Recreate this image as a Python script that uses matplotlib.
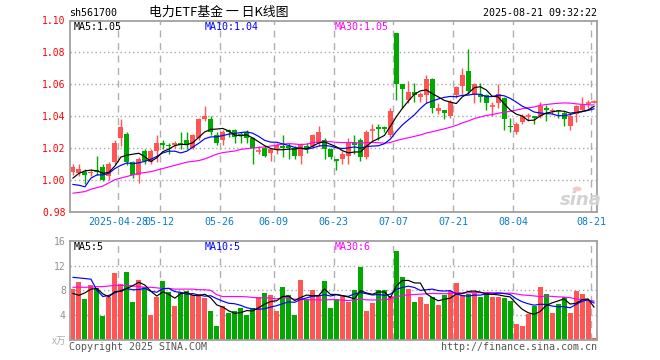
import matplotlib
matplotlib.use('Agg')
import matplotlib.pyplot as plt
import numpy as np
import pandas as pd

# ---------------- data ----------------
symbol = "sh561700"
title = "电力ETF基金 一 日K线图"
stamp = "2025-08-21 09:32:22"

dates = [
    "2025-04-16", "2025-04-17", "2025-04-18", "2025-04-21", "2025-04-22", "2025-04-23", "2025-04-24", "2025-04-25",
    "2025-04-28", "2025-04-29", "2025-04-30",
    "2025-05-06", "2025-05-07", "2025-05-08", "2025-05-09", "2025-05-12", "2025-05-13", "2025-05-14", "2025-05-15",
    "2025-05-16", "2025-05-19", "2025-05-20", "2025-05-21", "2025-05-22", "2025-05-23", "2025-05-26", "2025-05-27",
    "2025-05-28", "2025-05-29", "2025-05-30",
    "2025-06-03", "2025-06-04", "2025-06-05", "2025-06-06", "2025-06-09", "2025-06-10", "2025-06-11", "2025-06-12",
    "2025-06-13", "2025-06-16", "2025-06-17", "2025-06-18", "2025-06-19", "2025-06-20", "2025-06-23", "2025-06-24",
    "2025-06-25", "2025-06-26", "2025-06-27", "2025-06-30",
    "2025-07-01", "2025-07-02", "2025-07-03", "2025-07-04", "2025-07-07", "2025-07-08", "2025-07-09", "2025-07-10",
    "2025-07-11", "2025-07-14", "2025-07-15", "2025-07-16", "2025-07-17", "2025-07-18", "2025-07-21", "2025-07-22",
    "2025-07-23", "2025-07-24", "2025-07-25", "2025-07-28", "2025-07-29", "2025-07-30", "2025-07-31",
    "2025-08-01", "2025-08-04", "2025-08-05", "2025-08-06", "2025-08-07", "2025-08-08", "2025-08-11", "2025-08-12",
    "2025-08-13", "2025-08-14", "2025-08-15", "2025-08-18", "2025-08-19", "2025-08-20", "2025-08-21",
]

open_ = [1.005, 1.004, 1.005, 1.004, 1.006, 1.008, 1.002, 1.011, 1.026, 1.029,
         1.011, 1.003, 1.018, 1.011, 1.018, 1.023, 1.022, 1.022, 1.023, 1.025,
         1.020, 1.026, 1.038, 1.038, 1.028, 1.025, 1.031, 1.031, 1.029, 1.030,
         1.026, 1.018, 1.020, 1.017, 1.019, 1.021, 1.021, 1.020, 1.015, 1.021,
         1.021, 1.023, 1.025, 1.019, 1.013, 1.013, 1.015, 1.023, 1.025, 1.014,
         1.031, 1.033, 1.033, 1.028, 1.092, 1.060, 1.050, 1.055, 1.052, 1.053,
         1.063, 1.043, 1.044, 1.040, 1.053, 1.059, 1.068, 1.053, 1.054, 1.053,
         1.046, 1.048, 1.051, 1.034, 1.030, 1.036, 1.040, 1.040, 1.040, 1.045,
         1.043, 1.044, 1.042, 1.034, 1.041, 1.044, 1.048, 1.049]
high = [1.010, 1.010, 1.007, 1.007, 1.015, 1.010, 1.011, 1.025, 1.038, 1.030,
        1.012, 1.014, 1.019, 1.019, 1.028, 1.025, 1.023, 1.024, 1.030, 1.030,
        1.029, 1.039, 1.046, 1.040, 1.030, 1.031, 1.032, 1.032, 1.030, 1.031,
        1.027, 1.021, 1.021, 1.020, 1.023, 1.028, 1.023, 1.021, 1.023, 1.023,
        1.029, 1.034, 1.026, 1.020, 1.013, 1.018, 1.026, 1.028, 1.026, 1.031,
        1.035, 1.035, 1.034, 1.045, 1.092, 1.060, 1.062, 1.061, 1.055, 1.066,
        1.064, 1.048, 1.044, 1.050, 1.059, 1.070, 1.082, 1.061, 1.061, 1.054,
        1.049, 1.060, 1.052, 1.039, 1.036, 1.041, 1.042, 1.040, 1.049, 1.047,
        1.045, 1.044, 1.043, 1.041, 1.047, 1.052, 1.050, 1.050]
low = [1.003, 1.002, 0.997, 1.002, 1.003, 0.999, 1.000, 1.010, 1.021, 1.009,
       1.001, 0.998, 1.010, 1.010, 1.011, 1.019, 1.016, 1.020, 1.019, 1.019,
       1.019, 1.025, 1.037, 1.028, 1.022, 1.022, 1.027, 1.023, 1.023, 1.023,
       1.010, 1.016, 1.014, 1.012, 1.016, 1.014, 1.013, 1.013, 1.010, 1.017,
       1.020, 1.021, 1.013, 1.013, 1.006, 1.010, 1.010, 1.016, 1.012, 1.013,
       1.024, 1.025, 1.030, 1.027, 1.050, 1.045, 1.048, 1.049, 1.049, 1.048,
       1.042, 1.041, 1.038, 1.039, 1.051, 1.054, 1.054, 1.048, 1.049, 1.044,
       1.040, 1.045, 1.031, 1.030, 1.029, 1.035, 1.037, 1.035, 1.039, 1.037,
       1.041, 1.039, 1.034, 1.031, 1.036, 1.043, 1.045, 1.048]
close = [1.008, 1.007, 1.003, 1.005, 1.005, 1.000, 1.010, 1.023, 1.033, 1.011,
         1.003, 1.013, 1.012, 1.018, 1.023, 1.022, 1.021, 1.023, 1.022, 1.022,
         1.028, 1.038, 1.040, 1.030, 1.023, 1.030, 1.030, 1.027, 1.028, 1.026,
         1.020, 1.018, 1.015, 1.019, 1.022, 1.020, 1.020, 1.015, 1.022, 1.020,
         1.028, 1.030, 1.019, 1.014, 1.012, 1.016, 1.023, 1.022, 1.014, 1.030,
         1.031, 1.032, 1.032, 1.043, 1.060, 1.057, 1.055, 1.053, 1.054, 1.063,
         1.045, 1.045, 1.042, 1.049, 1.058, 1.066, 1.056, 1.060, 1.052, 1.048,
         1.046, 1.054, 1.038, 1.033, 1.035, 1.040, 1.040, 1.039, 1.046, 1.044,
         1.044, 1.043, 1.038, 1.040, 1.046, 1.047, 1.048, 1.049]
volume = [8.2, 9.3, 6.6, 8.9, 8.4, 3.9, 7.0, 10.8, 9.0, 10.9,
          6.1, 9.7, 8.6, 4.0, 7.0, 9.5, 7.7, 5.5, 7.7, 7.9,
          7.2, 7.4, 6.7, 4.7, 2.3, 5.5, 4.3, 4.7, 5.2, 4.0,
          5.2, 6.9, 7.6, 7.3, 4.6, 8.6, 7.3, 4.0, 9.7, 6.6,
          8.1, 7.3, 9.5, 5.2, 6.6, 7.1, 6.2, 8.1, 11.8, 4.7,
          6.0, 8.1, 8.1, 7.1, 14.4, 10.2, 8.2, 6.1, 7.0, 5.8,
          7.0, 5.7, 7.3, 7.9, 9.2, 7.3, 7.4, 7.7, 7.0, 7.7,
          7.0, 7.0, 6.7, 6.3, 2.5, 2.3, 4.2, 5.4, 8.5, 7.4,
          4.4, 5.8, 7.0, 4.4, 7.9, 7.4, 6.4, 0.4]

# moving-average values at the left edge (their windows reach before the chart)
price_ma5_head = [1.001, 1.004, 1.0055, 1.006]
price_ma10_head = [0.997, 0.9965, 0.9955, 1.001, 1.003, 1.003, 1.004, 1.007, 1.009]
price_ma30_head = [0.9915, 0.992, 0.9925, 0.994, 0.995, 0.996, 0.998, 1.000, 1.001, 1.002,
                   1.003, 1.004, 1.0045, 1.005, 1.006, 1.007, 1.008, 1.009, 1.010, 1.011,
                   1.0115, 1.012, 1.013, 1.0145, 1.016, 1.017, 1.0175, 1.018, 1.019]
vol_ma5_head = [7.5, 7.2, 7.6, 8.2]
vol_ma10_head = [10.1, 10.0, 9.9, 9.8, 8.0, 7.0, 7.2, 7.6, 8.0]
vol_ma30_head = [8.5, 8.5, 8.5, 8.5, 8.6, 8.6, 8.7, 8.8, 8.8, 8.8,
                 8.7, 8.6, 8.5, 8.5, 8.4, 8.3, 8.3, 8.2, 8.2, 8.2,
                 8.2, 8.1, 8.1, 8.0, 7.3, 7.0, 7.0, 7.0, 7.0]

tick_dates = ["2025-04-28", "2025-05-12", "2025-05-26", "2025-06-09", "2025-06-23",
              "2025-07-07", "2025-07-21", "2025-08-04", "2025-08-21"]
tick_labels = ["2025-04-28", "05-12", "05-26", "06-09", "06-23", "07-07", "07-21", "08-04", "08-21"]
price_ticks = [0.98, 1.00, 1.02, 1.04, 1.06, 1.08, 1.10]
vol_ticks = [4, 8, 12, 16]

# ---------------- helpers ----------------
W, H = 660, 360
RED = '#ff5555'
GREEN = '#00a800'
MONO = 'DejaVu Sans Mono'
CJK = ['Noto Sans CJK SC', 'DejaVu Sans']


def rect(l, t, r, b):
    return [l / W, 1 - b / H, (r - l) / W, (b - t) / H]


def ftext(x, y, s, **kw):
    kw.setdefault('va', 'center')
    kw.setdefault('family', MONO)
    return fig.text(x / W, 1 - y / H, s, **kw)


def moving(values, n, head):
    out = pd.Series(values).rolling(n).mean().to_numpy()
    out[:len(head)] = head
    return out


o = np.array(open_)
h = np.array(high)
l = np.array(low)
c = np.array(close)
v = np.array(volume)
x = np.arange(len(c))
up = c >= o
cols = np.where(up, RED, GREEN)

pma5 = moving(c, 5, price_ma5_head)
pma10 = moving(c, 10, price_ma10_head)
pma30 = moving(c, 30, price_ma30_head)
vma5 = moving(v, 5, vol_ma5_head)
vma10 = moving(v, 10, vol_ma10_head)
vma30 = moving(v, 30, vol_ma30_head)

tick_pos = np.array([dates.index(d) for d in tick_dates]) - 0.5

fig = plt.figure(figsize=(6.6, 3.6), dpi=100)
fig.patch.set_facecolor('white')
ax = fig.add_axes(rect(70, 20.5, 597, 211.5))
axv = fig.add_axes(rect(70, 240.7, 597, 340))

for a in (ax, axv):
    a.set_xlim(-0.5, len(c) - 0.5)
    for s in a.spines.values():
        s.set_color('#a0a0a0')
        s.set_linewidth(1.3)
    a.tick_params(length=0)
    for tp in tick_pos:
        a.axvline(tp, color='#b0b0b0', lw=1.0, ls=(0, (5, 4)), zorder=0)

# ---------------- price panel ----------------
ax.set_ylim(price_ticks[0], price_ticks[-1])
for yv in price_ticks[1:-1]:
    ax.axhline(yv, color='#a8a8a8', lw=1.0, ls=(0, (1, 2)), zorder=0)

ax.vlines(x, l, h, colors=cols, lw=1.0, zorder=2)
body = np.abs(c - o)
doji = body < 1e-9
ax.bar(x[~doji], body[~doji], bottom=np.minimum(o, c)[~doji], width=0.83,
       color=cols[~doji], zorder=3, linewidth=0)
ax.hlines(o[doji], x[doji] - 0.42, x[doji] + 0.42, colors=cols[doji], lw=1.2, zorder=3)

ax.plot(x, pma30, color='#ff00ff', lw=0.85, zorder=4)
ax.plot(x, pma10, color='#0000ff', lw=0.85, zorder=5)
ax.plot(x, pma5, color='#000000', lw=0.85, zorder=6)

ax.set_yticks(price_ticks)
ax.set_yticklabels([f"{t:.2f}" for t in price_ticks], color='red', family=MONO, fontsize=7)
ax.tick_params(axis='y', pad=3)
ax.set_xticks(tick_pos)
ax.set_xticklabels(tick_labels, color='#0a7cc8', family=MONO, fontsize=7.2)
ax.tick_params(axis='x', pad=4)

# ---------------- volume panel ----------------
axv.set_ylim(0, 16)
for yv in vol_ticks[:-1]:
    axv.axhline(yv, color='#a8a8a8', lw=1.0, ls=(0, (1, 2)), zorder=0)
axv.bar(x, v, width=0.83, color=cols, linewidth=0, zorder=2)
axv.plot(x, vma30, color='#ff00ff', lw=0.85, zorder=4)
axv.plot(x, vma10, color='#0000ff', lw=0.85, zorder=5)
axv.plot(x, vma5, color='#000000', lw=0.85, zorder=6)
axv.set_yticks(vol_ticks)
axv.set_yticklabels([str(t) for t in vol_ticks], color='#909090', family=MONO, fontsize=7)
axv.tick_params(axis='y', pad=3)
axv.set_xticks([])

# ---------------- texts ----------------
ftext(69, 12.5, symbol, fontsize=7.2, color='black')
ftext(149, 12.5, title, fontsize=9.3, color='black', family=CJK)
ftext(597, 12.5, stamp, fontsize=7.2, color='black', ha='right')

ftext(74, 26.5, f"MA5:{pma5[-1]:.2f}", fontsize=7.2, color='black')
ftext(204.5, 26.5, f"MA10:{pma10[-1]:.2f}", fontsize=7.2, color='#0000ff')
ftext(334.5, 26.5, f"MA30:{pma30[-1]:.2f}", fontsize=7.2, color='#ff00ff')

ftext(74, 246.5, f"MA5:{int(vma5[-1])}", fontsize=7.2, color='black')
ftext(204.5, 246.5, f"MA10:{int(vma10[-1])}", fontsize=7.2, color='#0000ff')
ftext(334.5, 246.5, f"MA30:{int(vma30[-1])}", fontsize=7.2, color='#ff00ff')

ftext(66, 341, "x万", fontsize=7, color='#b0b0b0', ha='right', family=CJK)
ftext(69, 346.5, "Copyright 2025 SINA.COM", fontsize=7.2, color='#555555')
ftext(597, 346.5, "http://finance.sina.com.cn", fontsize=7.2, color='#555555', ha='right')

# sina watermark
fig.text(581 / W, 1 - 200 / H, "sina", fontsize=13, style='italic', weight='bold',
         color='#d2d2d2', ha='center', va='center', family='DejaVu Sans')
fig.patches.append(plt.Circle((577 / W, 1 - 189 / H), 4.5 / W, transform=fig.transFigure,
                              facecolor='#f7c8c8', edgecolor='none'))

fig.savefig('out.png', dpi=100, facecolor='white')
